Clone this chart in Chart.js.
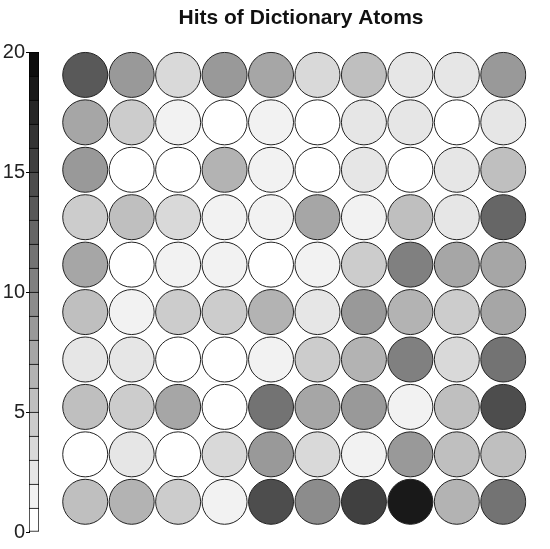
<!DOCTYPE html>
<html lang="en">
<head>
  <meta charset="UTF-8">
  <title>Hits of Dictionary Atoms</title>
  <script src="https://cdn.jsdelivr.net/npm/chart.js"></script>
  <style>
    html, body { margin: 0; padding: 0; background: #fff; }
    #wrap { position: relative; width: 550px; height: 549px; }
    #gridChart { position: absolute; left: 0; top: 0; }
    #barChart { position: absolute; left: 0; top: 0; }
  </style>
</head>
<body>
  <div id="wrap">
    <canvas id="gridChart" width="550" height="549"></canvas>
    <canvas id="barChart" width="40" height="549"></canvas>
  </div>

  <script>
    // hit counts per atom, rows listed top to bottom
    const row1  = [13, 8, 3, 8, 7, 3, 5, 2, 2, 8];
    const row2  = [7, 4, 1, 0, 1, 0, 2, 2, 0, 2];
    const row3  = [8, 0, 0, 6, 1, 0, 2, 0, 2, 5];
    const row4  = [4, 5, 3, 1, 1, 7, 1, 5, 2, 12];
    const row5  = [7, 0, 1, 1, 0, 1, 4, 10, 7, 7];
    const row6  = [5, 1, 4, 4, 6, 2, 8, 6, 4, 7];
    const row7  = [2, 2, 0, 0, 1, 4, 6, 10, 3, 11];
    const row8  = [5, 4, 7, 0, 11, 7, 8, 1, 5, 14];
    const row9  = [0, 2, 0, 3, 8, 3, 1, 8, 5, 5];
    const row10 = [5, 6, 4, 1, 14, 9, 15, 18, 6, 11];
    const rows = [row1, row2, row3, row4, row5, row6, row7, row8, row9, row10];

    const colorbarTicks = [0, 5, 10, 15, 20];
    const maxHits = 20;

    function grayFor(v) {
      const level = Math.min(Math.floor(v), maxHits - 1);
      const g = Math.round(255 * (1 - level / maxHits));
      return `rgb(${g},${g},${g})`;
    }

    const points = [];
    const fills = [];
    rows.forEach((row, r) => {
      row.forEach((v, c) => {
        points.push({ x: c + 1, y: rows.length - r, hits: v });
        fills.push(grayFor(v));
      });
    });

    new Chart(document.getElementById('gridChart'), {
      type: 'scatter',
      data: {
        datasets: [{
          data: points,
          pointRadius: 22.5,
          pointHoverRadius: 22.5,
          pointBackgroundColor: fills,
          pointBorderColor: '#222',
          pointBorderWidth: 1
        }]
      },
      options: {
        responsive: false,
        animation: false,
        layout: { padding: { left: 62, right: 10, top: 0, bottom: 18 } },
        plugins: {
          legend: { display: false },
          tooltip: { enabled: false },
          title: {
            display: true,
            text: 'Hits of Dictionary Atoms',
            color: '#111',
            font: { family: 'Liberation Sans, Arial, sans-serif', size: 21, weight: 'bold' },
            padding: { top: 6, bottom: 20 }
          }
        },
        scales: {
          x: { type: 'linear', min: 0.5, max: 10.5, display: false },
          y: { type: 'linear', min: 0.5, max: 10.5, display: false }
        }
      }
    });

    // colorbar: one stacked bar, one segment per hit level
    const levelSets = [];
    for (let k = 0; k < maxHits; k++) {
      levelSets.push({
        data: [1],
        backgroundColor: grayFor(k),
        borderColor: '#000',
        borderWidth: 1,
        borderSkipped: k === 0 ? false : 'start',
        barPercentage: 1,
        categoryPercentage: 1
      });
    }

    new Chart(document.getElementById('barChart'), {
      type: 'bar',
      data: { labels: [''], datasets: levelSets },
      options: {
        responsive: false,
        animation: false,
        layout: { padding: { left: 0, right: 1, top: 52, bottom: 17 } },
        plugins: { legend: { display: false }, tooltip: { enabled: false } },
        scales: {
          x: { stacked: true, display: false },
          y: {
            stacked: true,
            min: 0,
            max: 20,
            afterFit: (scale) => { scale.width = 29; },
            afterBuildTicks: (scale) => { scale.ticks = colorbarTicks.map(v => ({ value: v })); },
            border: { display: true, color: '#000' },
            grid: { drawOnChartArea: false, color: '#000', tickLength: 3 },
            ticks: {
              color: '#222',
              padding: 1,
              font: { family: 'Liberation Sans, Arial, sans-serif', size: 20 }
            }
          }
        }
      }
    });
  </script>
</body>
</html>
